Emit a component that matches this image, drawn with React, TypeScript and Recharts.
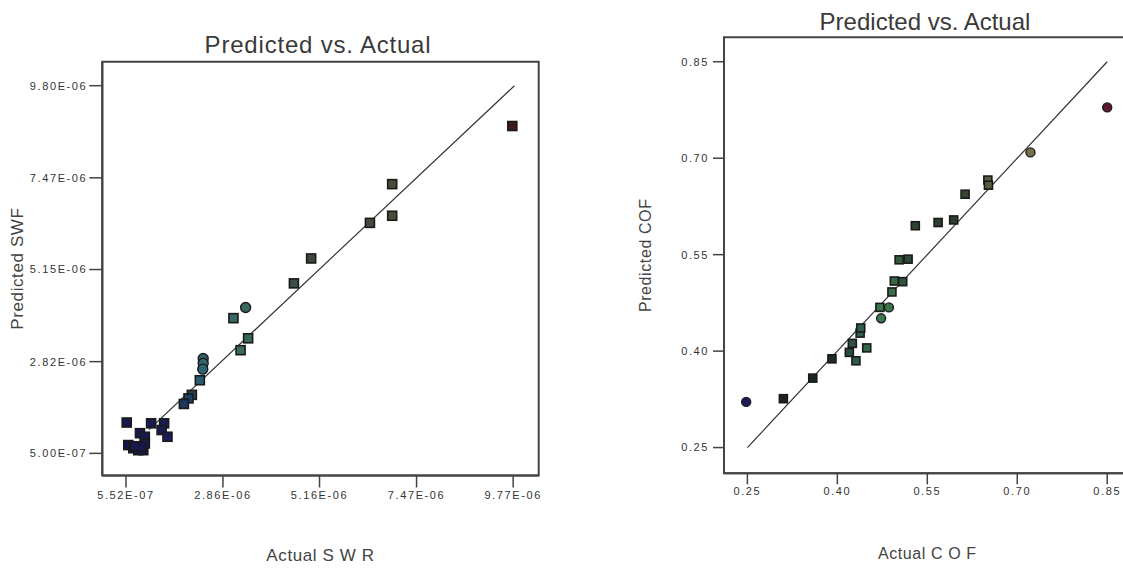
import React from "react"
import { ScatterChart, Scatter, XAxis, YAxis, ReferenceLine, ReferenceArea } from "recharts"

// left panel: sliding wear rate
const swrActual = [9.75e-6, 6.89e-6, 6.89e-6, 6.36e-6, 4.96e-6, 4.55e-6, 3.4e-6, 3.11e-6, 3.46e-6, 3.28e-6, 2.39e-6, 2.39e-6, 2.38e-6, 2.31e-6, 2.12e-6, 2.04e-6, 1.93e-6, 1.46e-6, 1.15e-6, 5.69e-7, 1.4e-6, 1.54e-6, 8.85e-7, 1.0e-6, 6.07e-7, 7.26e-7, 8.45e-7, 9.64e-7, 1.0e-6, 9.09e-7, 7.7e-7]
const swrPredicted = [8.78e-6, 7.31e-6, 6.51e-6, 6.33e-6, 5.43e-6, 4.8e-6, 4.19e-6, 3.92e-6, 3.41e-6, 3.11e-6, 2.9e-6, 2.78e-6, 2.63e-6, 2.35e-6, 1.98e-6, 1.89e-6, 1.75e-6, 1.26e-6, 1.26e-6, 1.28e-6, 1.09e-6, 9.2e-7, 1.01e-6, 9.2e-7, 7.1e-7, 6.3e-7, 5.8e-7, 5.8e-7, 7.5e-7, 6.7e-7, 6.8e-7]
const swrXTicks = [5.52e-7, 2.86e-6, 5.16e-6, 7.47e-6, 9.77e-6]
const swrYTicks = [5.0e-7, 2.82e-6, 5.15e-6, 7.47e-6, 9.8e-6]
const swrFit = [1.1e-6, 9.8e-6]

// right panel: coefficient of friction
const cofActual = [0.248, 0.31, 0.359, 0.391, 0.42, 0.425, 0.431, 0.449, 0.438, 0.439, 0.473, 0.471, 0.486, 0.491, 0.495, 0.509, 0.503, 0.518, 0.53, 0.568, 0.594, 0.613, 0.651, 0.652, 0.722, 0.85]
const cofPredicted = [0.321, 0.326, 0.358, 0.388, 0.398, 0.412, 0.385, 0.405, 0.428, 0.436, 0.451, 0.468, 0.468, 0.492, 0.509, 0.508, 0.542, 0.543, 0.595, 0.6, 0.604, 0.644, 0.666, 0.658, 0.709, 0.779]
const cofTicks = [0.25, 0.4, 0.55, 0.7, 0.85]
const cofFit = [0.25, 0.85]

const swrRound = [6, 10, 11, 12]
const cofRound = [0, 10, 12, 24, 25]

const swrStops: [number, string][] = [
  [0, "#16164e"], [1.5e-6, "#1a1a55"], [2.0e-6, "#1e3a5c"], [2.4e-6, "#2f6672"],
  [3.3e-6, "#3a6a60"], [4.8e-6, "#3e463e"], [6.9e-6, "#4a4a3c"], [9.8e-6, "#3c1a1a"],
]
const cofStops: [number, string][] = [
  [0.25, "#1c1a5c"], [0.3, "#1a2222"], [0.39, "#1c2a28"], [0.43, "#2e5a4a"], [0.48, "#3f7a50"],
  [0.52, "#2a4632"], [0.6, "#2e3e30"], [0.65, "#5a5a3c"], [0.72, "#787048"], [0.85, "#5c1a2c"],
]

function hex(c: string) {
  return [1, 3, 5].map((i) => parseInt(c.slice(i, i + 2), 16))
}

function colorAt(stops: [number, string][], v: number) {
  if (v <= stops[0][0]) return stops[0][1]
  for (let i = 1; i < stops.length; i++) {
    if (v <= stops[i][0]) {
      const t = (v - stops[i - 1][0]) / (stops[i][0] - stops[i - 1][0])
      const a = hex(stops[i - 1][1])
      const b = hex(stops[i][1])
      return `rgb(${a.map((x, k) => Math.round(x + (b[k] - x) * t)).join(",")})`
    }
  }
  return stops[stops.length - 1][1]
}

function fmtExp(v: number) {
  const [m, e] = v.toExponential(2).split("e")
  const ex = parseInt(e, 10)
  return `${m}E${ex < 0 ? "-" : "+"}${String(Math.abs(ex)).padStart(2, "0")}`
}

const swrData = swrActual.map((x, i) => ({ x, y: swrPredicted[i], round: swrRound.includes(i) }))
const cofData = cofActual.map((x, i) => ({ x, y: cofPredicted[i], round: cofRound.includes(i) }))

function marker(stops: [number, string][], size: number) {
  return (props: any) => {
    const { cx, cy, payload } = props
    if (cx == null || cy == null) return <g />
    const fill = colorAt(stops, payload.x)
    if (payload.round) {
      return <circle cx={cx} cy={cy} r={size / 2 + 0.5} fill={fill} stroke="#1c1c1c" strokeWidth={1.4} />
    }
    return (
      <rect x={cx - size / 2} y={cy - size / 2} width={size} height={size} fill={fill} stroke="#1a1a1a" strokeWidth={1.6} />
    )
  }
}

const tickStyle = { fontSize: 11, fill: "#333", letterSpacing: 1.6, fontFamily: "Liberation Sans, Arial, sans-serif" }
const axisTitle = { fontSize: 17, fill: "#444", letterSpacing: 0.6, fontFamily: "Liberation Sans, Arial, sans-serif" }
const titleCss: React.CSSProperties = {
  position: "absolute",
  fontSize: 24,
  lineHeight: "24px",
  color: "#3a3a3a",
  textAlign: "center",
  fontFamily: "Liberation Sans, Arial, sans-serif",
}

export default function App() {
  return (
    <div style={{ position: "fixed", left: 0, top: 0, width: 1123, height: 570, overflow: "hidden", background: "#fff" }}>
      <div style={{ ...titleCss, left: 0, top: 33, width: 636, letterSpacing: 0.8 }}>Predicted vs. Actual</div>
      <div style={{ ...titleCss, left: 560, top: 10, width: 730 }}>Predicted vs. Actual</div>

      <div style={{ position: "absolute", left: 0, top: 0 }}>
        <ScatterChart width={560} height={570} margin={{ top: 61.7, right: 21.3, bottom: 0, left: 0 }}>
          <XAxis
            type="number"
            dataKey="x"
            domain={[-0.012e-6, 10.378e-6]}
            ticks={swrXTicks}
            tickFormatter={fmtExp}
            allowDataOverflow
            height={94.5}
            tickSize={12}
            tickMargin={4}
            tick={tickStyle}
            axisLine={{ stroke: "#444", strokeWidth: 2 }}
            tickLine={{ stroke: "#444", strokeWidth: 1.5 }}
            label={{ value: "Actual S W R", position: "insideBottom", offset: 9, style: axisTitle }}
          />
          <YAxis
            type="number"
            dataKey="y"
            domain={[-0.06e-6, 10.407e-6]}
            ticks={swrYTicks}
            tickFormatter={fmtExp}
            allowDataOverflow
            width={102.3}
            tickSize={13}
            tickMargin={2}
            tick={tickStyle}
            axisLine={{ stroke: "#444", strokeWidth: 2 }}
            tickLine={{ stroke: "#444", strokeWidth: 1.5 }}
            label={{ value: "Predicted SWF", angle: -90, position: "insideLeft", offset: 17, style: { ...axisTitle, textAnchor: "middle" } }}
          />
          <ReferenceArea x1={-0.012e-6} x2={10.378e-6} y1={-0.06e-6} y2={10.407e-6} fill="none" stroke="#444" strokeWidth={2} />
          <ReferenceLine
            segment={[{ x: swrFit[0], y: swrFit[0] }, { x: swrFit[1], y: swrFit[1] }]}
            stroke="#333"
            strokeWidth={1.2}
          />
          <Scatter data={swrData} isAnimationActive={false} shape={marker(swrStops, 9)} />
        </ScatterChart>
      </div>

      <div style={{ position: "absolute", left: 560, top: 0 }}>
        <ScatterChart width={580} height={570} margin={{ top: 37.3, right: 9.4, bottom: 0, left: 0 }}>
          <XAxis
            type="number"
            dataKey="x"
            domain={[0.211, 0.889]}
            ticks={cofTicks}
            tickFormatter={(v: number) => v.toFixed(2)}
            allowDataOverflow
            height={96.7}
            tickSize={11}
            tickMargin={3}
            tick={tickStyle}
            axisLine={{ stroke: "#444", strokeWidth: 2 }}
            tickLine={{ stroke: "#444", strokeWidth: 1.5 }}
            label={{ value: "Actual C O F", position: "insideBottom", offset: 11, style: { ...axisTitle, fontSize: 16 } }}
          />
          <YAxis
            type="number"
            dataKey="y"
            domain={[0.21, 0.888]}
            ticks={cofTicks}
            tickFormatter={(v: number) => v.toFixed(2)}
            allowDataOverflow
            width={164}
            tickSize={11}
            tickMargin={4}
            tick={tickStyle}
            axisLine={{ stroke: "#444", strokeWidth: 2 }}
            tickLine={{ stroke: "#444", strokeWidth: 1.5 }}
            label={{ value: "Predicted COF", angle: -90, position: "insideLeft", offset: 85.5, style: { ...axisTitle, fontSize: 16, textAnchor: "middle" } }}
          />
          <ReferenceArea x1={0.211} x2={0.889} y1={0.21} y2={0.888} fill="none" stroke="#444" strokeWidth={2} />
          <ReferenceLine
            segment={[{ x: cofFit[0], y: cofFit[0] }, { x: cofFit[1], y: cofFit[1] }]}
            stroke="#333"
            strokeWidth={1.2}
          />
          <Scatter data={cofData} isAnimationActive={false} shape={marker(cofStops, 8)} />
        </ScatterChart>
      </div>
    </div>
  )
}
